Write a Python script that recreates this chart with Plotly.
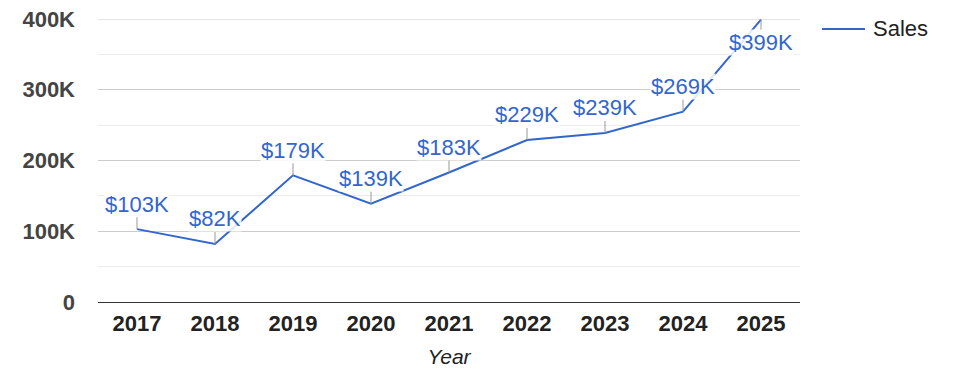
import plotly.graph_objects as go

years = ["2017", "2018", "2019", "2020", "2021", "2022", "2023", "2024", "2025"]
sales = [103000, 82000, 179000, 139000, 183000, 229000, 239000, 269000, 399000]
y_ticks = [0, 100000, 200000, 300000, 400000]
y_tick_labels = ["0", "100K", "200K", "300K", "400K"]
series_name = "Sales"

FONT = "Arial, Liberation Sans, sans-serif"
BLUE = "#3366cc"

xi = list(range(len(years)))
y_max = y_ticks[-1]

fig = go.Figure()
fig.add_trace(go.Scatter(
    x=xi, y=sales, mode="lines", name=series_name,
    line=dict(color=BLUE, width=2), showlegend=False,
))

for i, v in zip(xi, sales):
    near_top = v > 0.95 * y_max
    fig.add_annotation(
        x=i, y=v, xref="x", yref="y",
        text="$%dK" % round(v / 1000),
        showarrow=True, arrowhead=0, arrowwidth=1, arrowcolor="#999999",
        ax=0, ay=(23 if near_top else -25), standoff=0,
        font=dict(family=FONT, size=22, color=BLUE),
        bgcolor="rgba(255,255,255,0.85)", borderpad=0,
    )

# top gridline at the range edge
fig.add_shape(type="line", xref="paper", yref="y", x0=0, x1=1,
              y0=y_max, y1=y_max, layer="below",
              line=dict(color="#cccccc", width=1))

# legend (line sample + label)
fig.add_shape(type="line", xref="paper", yref="paper",
              x0=1.0313, x1=1.0926, y0=0.9647, y1=0.9647,
              line=dict(color=BLUE, width=2))
fig.add_annotation(xref="paper", yref="paper", x=1.1011, y=0.9647,
                   xanchor="left", yanchor="middle", showarrow=False,
                   text=series_name,
                   font=dict(family=FONT, size=22, color="#222222"))

fig.update_layout(
    width=975, height=378,
    margin=dict(l=98, r=175, t=19, b=76),
    paper_bgcolor="white", plot_bgcolor="white",
    font=dict(family=FONT),
    showlegend=False,
    xaxis=dict(
        range=[-0.5, len(years) - 0.5], tickvals=xi, ticktext=years,
        showgrid=False, zeroline=False, automargin=False,
        showline=True, linecolor="#333333", linewidth=1,
        tickfont=dict(family=FONT, size=22, color="#222222", weight="bold"),
        ticks="", ticklabelstandoff=2,
        title=dict(text="<i>Year</i>", font=dict(family=FONT, size=21, color="#222222"), standoff=13),
    ),
    yaxis=dict(
        range=[0, y_max], tickvals=y_ticks, ticktext=y_tick_labels,
        showgrid=True, gridcolor="#cccccc", gridwidth=1, zeroline=False, automargin=False,
        minor=dict(dtick=50000, showgrid=True, gridcolor="#ebebeb", gridwidth=1),
        tickfont=dict(family=FONT, size=22, color="#444444", weight="bold"),
        ticks="", ticklabelstandoff=22,
    ),
)

fig.write_html("out.html", config={"displayModeBar": False},
               post_script="document.body.style.margin='0';")
